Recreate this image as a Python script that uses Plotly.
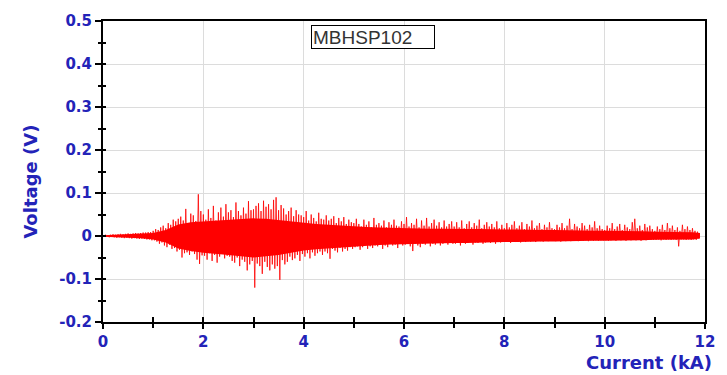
import numpy as np
import plotly.graph_objects as go

# ---- Data ----
# Dense core band of the noise (V), every 0.25 kA from 0 to 12
band_current = [0, 0.25, 0.5, 0.75, 1.0, 1.25, 1.5, 1.75, 2.0, 2.25, 2.5, 2.75, 3.0, 3.25, 3.5,
                3.75, 4.0, 4.25, 4.5, 4.75, 5.0, 5.25, 5.5, 5.75, 6.0, 6.25, 6.5, 6.75, 7.0, 7.25,
                7.5, 7.75, 8.0, 8.25, 8.5, 8.75, 9.0, 9.25, 9.5, 9.75, 10.0, 10.25, 10.5, 10.75,
                11.0, 11.25, 11.5, 11.75, 11.9]
band_upper = [0.002, 0.003, 0.004, 0.005, 0.007, 0.014, 0.027, 0.032, 0.034, 0.036, 0.037, 0.039,
              0.041, 0.040, 0.037, 0.033, 0.030, 0.028, 0.026, 0.024, 0.022, 0.021, 0.020, 0.019,
              0.018, 0.018, 0.017, 0.017, 0.016, 0.016, 0.016, 0.015, 0.015, 0.015, 0.014, 0.014,
              0.014, 0.013, 0.013, 0.012, 0.012, 0.012, 0.011, 0.011, 0.010, 0.010, 0.009, 0.009, 0.007]
band_lower = [-0.002, -0.003, -0.004, -0.005, -0.008, -0.015, -0.029, -0.035, -0.039, -0.041,
              -0.044, -0.047, -0.050, -0.047, -0.044, -0.039, -0.034, -0.031, -0.029, -0.026,
              -0.024, -0.022, -0.021, -0.020, -0.019, -0.018, -0.017, -0.017, -0.016, -0.016,
              -0.015, -0.015, -0.014, -0.014, -0.013, -0.013, -0.013, -0.012, -0.012, -0.011,
              -0.011, -0.011, -0.010, -0.010, -0.009, -0.009, -0.008, -0.008, -0.006]

# Voltage samples in mV (spikes), one every 0.025 kA starting at 0 kA
seg_0_1 = [2,-1,3,-2,2,-3,3,-2,4,-3,3,-4,4,-3,5,-4,4,-5,5,-4,6,-5,5,-6,6,-5,7,-6,6,-7,7,-6,8,-7,8,-8,9,-8,9,-10]
seg_1_15 = [12,-10,16,-13,14,-18,20,-15,24,-22,18,-26,30,-20,26,-30,38,-28,34,-36]
seg_15_2 = [40,-32,45,-50,36,-40,63,-38,30,-44,52,-36,48,-42,35,-55,97,-65,58,-45]
seg_2_25 = [50,-46,38,-55,62,-40,42,-58,70,-44,36,-62,55,-48,66,-40,45,-52,74,-46]
seg_25_3 = [55,-48,60,-58,44,-62,78,-50,58,-70,48,-55,66,-60,52,-80,81,-66,60,-58]
seg_3_35 = [62,-120,70,-64,76,-70,58,-88,82,-60,68,-72,74,-80,62,-66,84,-76,90,-70]
seg_35_4 = [60,-102,72,-56,64,-66,50,-60,58,-48,66,-56,46,-52,60,-44,50,-58,48,-42]
seg_4_45 = [44,-48,58,-40,36,-52,50,-38,42,-46,34,-40,54,-36,40,-44,38,-36,48,-40]
seg_45_5 = [36,-53,40,-30,46,-34,30,-38,42,-28,34,-36,44,-30,28,-34,38,-26,32,-30]
seg_5_6 = [30,-26,40,-24,28,-32,22,-26,38,-22,26,-30,34,-24,20,-28,42,-22,26,-24,30,-20,24,-30,36,-22,20,-26,32,-18,26,-22,38,-20,24,-28,22,-18,34,-22]
seg_6_7 = [28,-20,44,-18,22,-24,30,-35,26,-18,40,-22,20,-26,36,-18,24,-20,42,-16,22,-24,30,-18,38,-20,24,-16,32,-22,20,-18,36,-16,22,-20,28,-16,34,-18]
seg_7_8 = [22,-18,32,-16,20,-22,36,-15,18,-18,28,-16,34,-14,20,-20,30,-15,24,-16,38,-14,18,-18,26,-15,32,-14,22,-16,28,-13,20,-18,34,-14,18,-15,26,-13]
seg_8_9 = [18,-14,30,-13,20,-16,26,-12,34,-14,18,-12,24,-15,32,-12,16,-14,28,-12,22,-13,36,-12,18,-14,24,-11,30,-12,16,-13,26,-11,20,-12,32,-11,18,-10]
seg_9_10 = [16,-12,26,-11,20,-13,30,-11,18,-12,24,-10,40,-12,16,-11,28,-10,22,-12,18,-10,30,-11,24,-10,16,-12,26,-10,20,-11,34,-10,18,-11,24,-10,16,-10]
seg_10_11 = [14,-10,24,-11,18,-10,30,-9,16,-11,22,-9,28,-10,14,-9,26,-11,20,-9,16,-10,32,-9,40,-10,18,-9,24,-11,14,-9,28,-10,20,-9,24,-9,16,-9]
seg_11_end = [12,-9,22,-8,16,-10,26,-8,14,-9,30,-8,18,-9,24,-8,14,-9,20,-24,12,-8,26,-8,16,-9,22,-8,14,-9,18,-8,12,-9,10,-6]

voltage_mv = (seg_0_1 + seg_1_15 + seg_15_2 + seg_2_25 + seg_25_3 + seg_3_35 + seg_35_4 +
              seg_4_45 + seg_45_5 + seg_5_6 + seg_6_7 + seg_7_8 + seg_8_9 + seg_9_10 +
              seg_10_11 + seg_11_end)
sample_step_ka = 0.025
current = np.arange(len(voltage_mv)) * sample_step_ka
voltage = np.array(voltage_mv) / 1000.0

y_ticks = [-0.2, -0.1, 0, 0.1, 0.2, 0.3, 0.4, 0.5]
y_labels = ["-0.2", "-0.1", "0", "0.1", "0.2", "0.3", "0.4", "0.5"]
x_ticks = [0, 2, 4, 6, 8, 10, 12]
x_labels = ["0", "2", "4", "6", "8", "10", "12"]
label = "MBHSP102"

blue = "#2323b8"
bold_family = "DejaVu Sans, sans-serif"
tickfont = dict(family=bold_family, size=15, color=blue, weight="bold")
titlefont = dict(family=bold_family, size=18, color=blue, weight="bold")

fig = go.Figure()
fig.add_trace(go.Scatter(x=band_current, y=band_lower, mode="lines",
                         line=dict(color="#ff0000", width=0), showlegend=False, hoverinfo="skip"))
fig.add_trace(go.Scatter(x=band_current, y=band_upper, mode="lines", fill="tonexty",
                         fillcolor="#ff0000", line=dict(color="#ff0000", width=0),
                         showlegend=False, hoverinfo="skip"))
fig.add_trace(go.Scatter(x=current, y=voltage, mode="lines",
                         line=dict(color="#ff0000", width=0.8), showlegend=False,
                         hoverinfo="skip"))
# empty trace to activate overlay axes (inner halves of crossing ticks)
fig.add_trace(go.Scatter(x=[None], y=[None], xaxis="x2", yaxis="y2", showlegend=False))

fig.update_layout(
    width=727, height=375,
    margin=dict(l=103, r=13, t=20, b=53),
    plot_bgcolor="white", paper_bgcolor="white",
    xaxis=dict(range=[0, 12], tickvals=x_ticks, ticktext=x_labels, tickfont=tickfont,
               showgrid=True, gridcolor="#dcdcdc", gridwidth=1, zeroline=False,
               showline=True, linecolor="black", linewidth=2, mirror=True,
               ticks="outside", ticklen=5, tickwidth=2, tickcolor="black",
               minor=dict(dtick=1, tick0=0, ticks="outside", ticklen=4, tickwidth=2,
                          tickcolor="black", showgrid=False)),
    yaxis=dict(range=[-0.2, 0.5], tickvals=y_ticks, ticktext=y_labels, tickfont=tickfont,
               showgrid=True, gridcolor="#dcdcdc", gridwidth=1, zeroline=False,
               showline=True, linecolor="black", linewidth=2, mirror=True,
               ticks="outside", ticklen=6, tickwidth=2, tickcolor="black",
               minor=dict(dtick=0.05, tick0=0, ticks="outside", ticklen=3, tickwidth=2,
                          tickcolor="black", showgrid=False)),
    xaxis2=dict(range=[0, 12], overlaying="x", anchor="y2", side="bottom",
                showticklabels=False, showgrid=False, zeroline=False, showline=False,
                tickvals=list(range(0, 13)), ticks="inside", ticklen=5, tickwidth=2,
                tickcolor="black"),
    yaxis2=dict(range=[-0.2, 0.5], overlaying="y", anchor="x2", side="left",
                showticklabels=False, showgrid=False, zeroline=False, showline=False,
                dtick=0.05, tick0=0, ticks="inside", ticklen=3, tickwidth=2,
                tickcolor="black"),
    annotations=[
        dict(text="Voltage (V)", xref="paper", yref="paper", x=-0.121, y=0.467,
             xanchor="center", yanchor="middle", textangle=-90, showarrow=False,
             font=titlefont),
        dict(text="Current (kA)", xref="paper", yref="paper", x=1.015, y=-0.136,
             xanchor="right", yanchor="middle", showarrow=False, font=titlefont),
        dict(text=label, xref="paper", yref="paper", x=0.346, y=0.987,
             xanchor="left", yanchor="top", showarrow=False, align="left",
             font=dict(family="Liberation Sans, Arial, sans-serif", size=19, color="#333333"),
             bordercolor="black", borderwidth=1, borderpad=1, width=120, height=20,
             bgcolor="white"),
    ],
)

fig.write_html("out.html")
